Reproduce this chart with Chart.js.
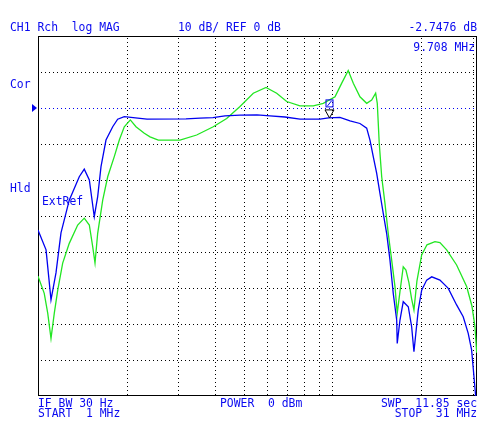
<!DOCTYPE html>
<html>
<head>
<meta charset="utf-8">
<script src="https://cdn.jsdelivr.net/npm/chart.js@4/dist/chart.umd.min.js"></script>
<style>
  html, body { margin: 0; padding: 0; background: #ffffff; }
  canvas { display: block; }
</style>
</head>
<body>
<canvas id="c" width="488" height="428"></canvas>
<script>
// ---- data (frequency in MHz, magnitude in dB) ----
const blueFreq = [1.000, 1.065, 1.107, 1.151, 1.197, 1.277, 1.381, 1.436, 1.494, 1.553, 1.595, 1.637, 1.702, 1.794, 1.865, 1.964,
  2.221, 2.346, 3.183, 3.551, 3.930, 4.317, 4.855, 5.545, 6.139, 6.903, 7.762, 9.078, 9.708, 10.61, 11.48, 12.41, 13.08,
  13.42, 13.77, 14.14, 14.51, 14.89, 15.29, 15.69, 16.10, 16.54, 16.61, 16.97, 17.41, 18.11, 18.59, 18.93, 19.58, 20.11,
  20.91, 21.75, 23.20, 24.76, 26.43, 27.83, 28.94, 29.72, 30.27, 30.75];
const blueDb = [-33.9, -39.4, -53.3, -45.8, -34.7, -25.6, -19.1, -17.0, -20.0, -30.2, -24.6, -16.3, -8.9, -5.2, -3.1, -2.4,
  -2.9, -3.1, -3.0, -2.8, -2.7, -2.2, -2.0, -1.9, -2.2, -2.5, -3.1, -3.1, -2.75, -2.6, -3.6, -4.3, -5.6,
  -8.9, -13.5, -18.1, -23.7, -29.3, -34.8, -42.2, -51.5, -58.9, -65.4, -58.9, -53.8, -55.2, -60.7, -67.7, -56.1, -50.6,
  -47.8, -46.9, -47.8, -50.1, -54.7, -58.0, -62.6, -67.2, -74.6, -81.0];

const greenFreq = [1.000, 1.050, 1.079, 1.107, 1.136, 1.167, 1.213, 1.277, 1.364, 1.436, 1.494, 1.534, 1.562, 1.595, 1.659,
  1.725, 1.816, 1.889, 1.964, 2.059, 2.152, 2.297, 2.402, 2.563, 3.036, 3.460, 3.939, 4.375, 4.855, 5.387, 5.950, 6.469,
  6.996, 7.762, 8.614, 9.314, 10.21, 10.76, 11.32, 11.78, 12.41, 13.08, 13.60, 14.03, 14.21, 14.43, 14.71, 15.09, 15.48,
  15.90, 16.32, 16.61, 16.97, 17.41, 17.78, 18.20, 18.59, 18.93, 19.38, 20.11, 20.96, 22.31, 23.20, 24.45, 26.43, 28.59,
  29.79, 30.51, 30.92];
const greenDb = [-46.7, -51.5, -57.0, -64.0, -57.0, -50.6, -43.1, -37.6, -32.5, -30.6, -32.5, -38.5, -43.1, -34.8, -25.6,
  -19.1, -13.5, -8.9, -5.2, -3.3, -5.2, -7.0, -8.0, -8.9, -8.9, -7.5, -5.2, -2.9, 0.4, 4.1, 5.7, 4.1,
  1.8, 0.6, 0.6, 1.3, 3.1, 6.9, 10.4, 6.9, 3.1, 1.3, 2.2, 4.1, 1.3, -9.8, -19.1, -26.5, -34.8,
  -42.2, -49.6, -57.0, -51.0, -44.1, -45.0, -48.5, -53.0, -56.1, -48.0, -40.8, -38.0, -37.1, -37.4, -39.4, -43.6, -49.6,
  -55.0, -60.7, -68.0];

const gridFreqs = [2, 3, 4, 5, 6, 7, 8, 9, 10, 20, 30];
const gridDb = [10, 0, -10, -20, -30, -40, -50, -60, -70];
const refDb = 0;
const markerFreq = 9.708;
const markerDb = -2.7476;

const headerTexts = ["CH1 Rch  log MAG", "10 dB/ REF 0 dB", "-2.7476 dB", "9.708 MHz"];
const sideTexts = ["Cor", "Hld", "ExtRef"];
const footerTexts = ["IF BW 30 Hz", "START  1 MHz", "POWER  0 dBm", "SWP  11.85 sec", "STOP  31 MHz"];

// ---- styling ----
const TXT = '#0a0af0';
const BLUE = '#0000f0';
const GREEN = '#22e622';
const FONT = '11.4px "DejaVu Sans Mono", "Liberation Mono", monospace';

const toPts = (fs, ds) => fs.map((f, i) => ({ x: f, y: ds[i] }));

const decor = {
  id: 'decor',
  beforeDatasetsDraw(chart) {
    const { ctx, chartArea: a, scales: { x, y } } = chart;
    ctx.save();
    ctx.lineWidth = 1;
    // vertical dotted grid
    ctx.strokeStyle = '#000';
    ctx.setLineDash([1, 3]);
    gridFreqs.forEach(f => {
      const px = Math.round(x.getPixelForValue(f)) + 0.5;
      ctx.beginPath();
      ctx.moveTo(px, a.top + 2);
      ctx.lineTo(px, a.bottom);
      ctx.stroke();
    });
    // horizontal dotted grid
    gridDb.forEach(d => {
      const py = Math.round(y.getPixelForValue(d)) + 0.5;
      ctx.strokeStyle = d === refDb ? BLUE : '#000';
      ctx.beginPath();
      ctx.moveTo(a.left + 3, py);
      ctx.lineTo(a.right, py);
      ctx.stroke();
    });
    ctx.setLineDash([]);
    // frame
    ctx.strokeStyle = '#000';
    ctx.strokeRect(a.left + 0.5, a.top + 0.5, a.right - a.left - 1, a.bottom - a.top - 1);
    ctx.restore();
  },
  afterDraw(chart) {
    const { ctx, chartArea: a, scales: { x, y } } = chart;
    ctx.save();
    // reference triangle on the left
    const ry = y.getPixelForValue(refDb);
    ctx.fillStyle = BLUE;
    ctx.beginPath();
    ctx.moveTo(a.left - 6, ry - 4);
    ctx.lineTo(a.left - 1, ry);
    ctx.lineTo(a.left - 6, ry + 4);
    ctx.closePath();
    ctx.fill();
    // marker
    const mx = Math.round(x.getPixelForValue(markerFreq)) + 0.5;
    const my = y.getPixelForValue(markerDb);
    ctx.strokeStyle = '#000';
    ctx.lineWidth = 1;
    ctx.beginPath();
    ctx.moveTo(mx - 4.5, my - 8);
    ctx.lineTo(mx + 4.5, my - 8);
    ctx.lineTo(mx, my);
    ctx.closePath();
    ctx.stroke();
    ctx.strokeStyle = BLUE;
    ctx.strokeRect(mx - 3.5, my - 18, 7, 7);
    ctx.beginPath();
    ctx.moveTo(mx - 2, my - 12);
    ctx.lineTo(mx + 2, my - 17);
    ctx.stroke();
    // texts
    ctx.font = FONT;
    ctx.fillStyle = TXT;
    ctx.textBaseline = 'alphabetic';
    ctx.textAlign = 'left';
    ctx.fillText(headerTexts[0], 10, 31);
    ctx.fillText(headerTexts[1], 178, 31);
    ctx.textAlign = 'right';
    ctx.fillText(headerTexts[2], 477, 31);
    ctx.fillText(headerTexts[3], 475, 51);
    ctx.textAlign = 'left';
    ctx.fillText(sideTexts[0], 10, 88);
    ctx.fillText(sideTexts[1], 10, 192);
    ctx.fillText(sideTexts[2], 42, 205);
    ctx.fillText(footerTexts[0], 38, 407);
    ctx.fillText(footerTexts[1], 38, 417);
    ctx.fillText(footerTexts[2], 220, 407);
    ctx.textAlign = 'right';
    ctx.fillText(footerTexts[3], 477, 407);
    ctx.fillText(footerTexts[4], 477, 417);
    ctx.restore();
  }
};

new Chart(document.getElementById('c'), {
  type: 'line',
  data: {
    datasets: [
      { label: 'Blue', data: toPts(blueFreq, blueDb), borderColor: BLUE, borderWidth: 1.3, pointRadius: 0, tension: 0, fill: false },
      { label: 'Green', data: toPts(greenFreq, greenDb), borderColor: GREEN, borderWidth: 1.3, pointRadius: 0, tension: 0, fill: false }
    ]
  },
  options: {
    responsive: false,
    animation: false,
    events: [],
    layout: { padding: { left: 38, right: 11, top: 36, bottom: 32 } },
    plugins: { legend: { display: false }, tooltip: { enabled: false } },
    scales: {
      x: { type: 'logarithmic', min: 1, max: 31, display: false },
      y: { type: 'linear', min: -80, max: 20, display: false }
    }
  },
  plugins: [decor]
});
</script>
</body>
</html>
